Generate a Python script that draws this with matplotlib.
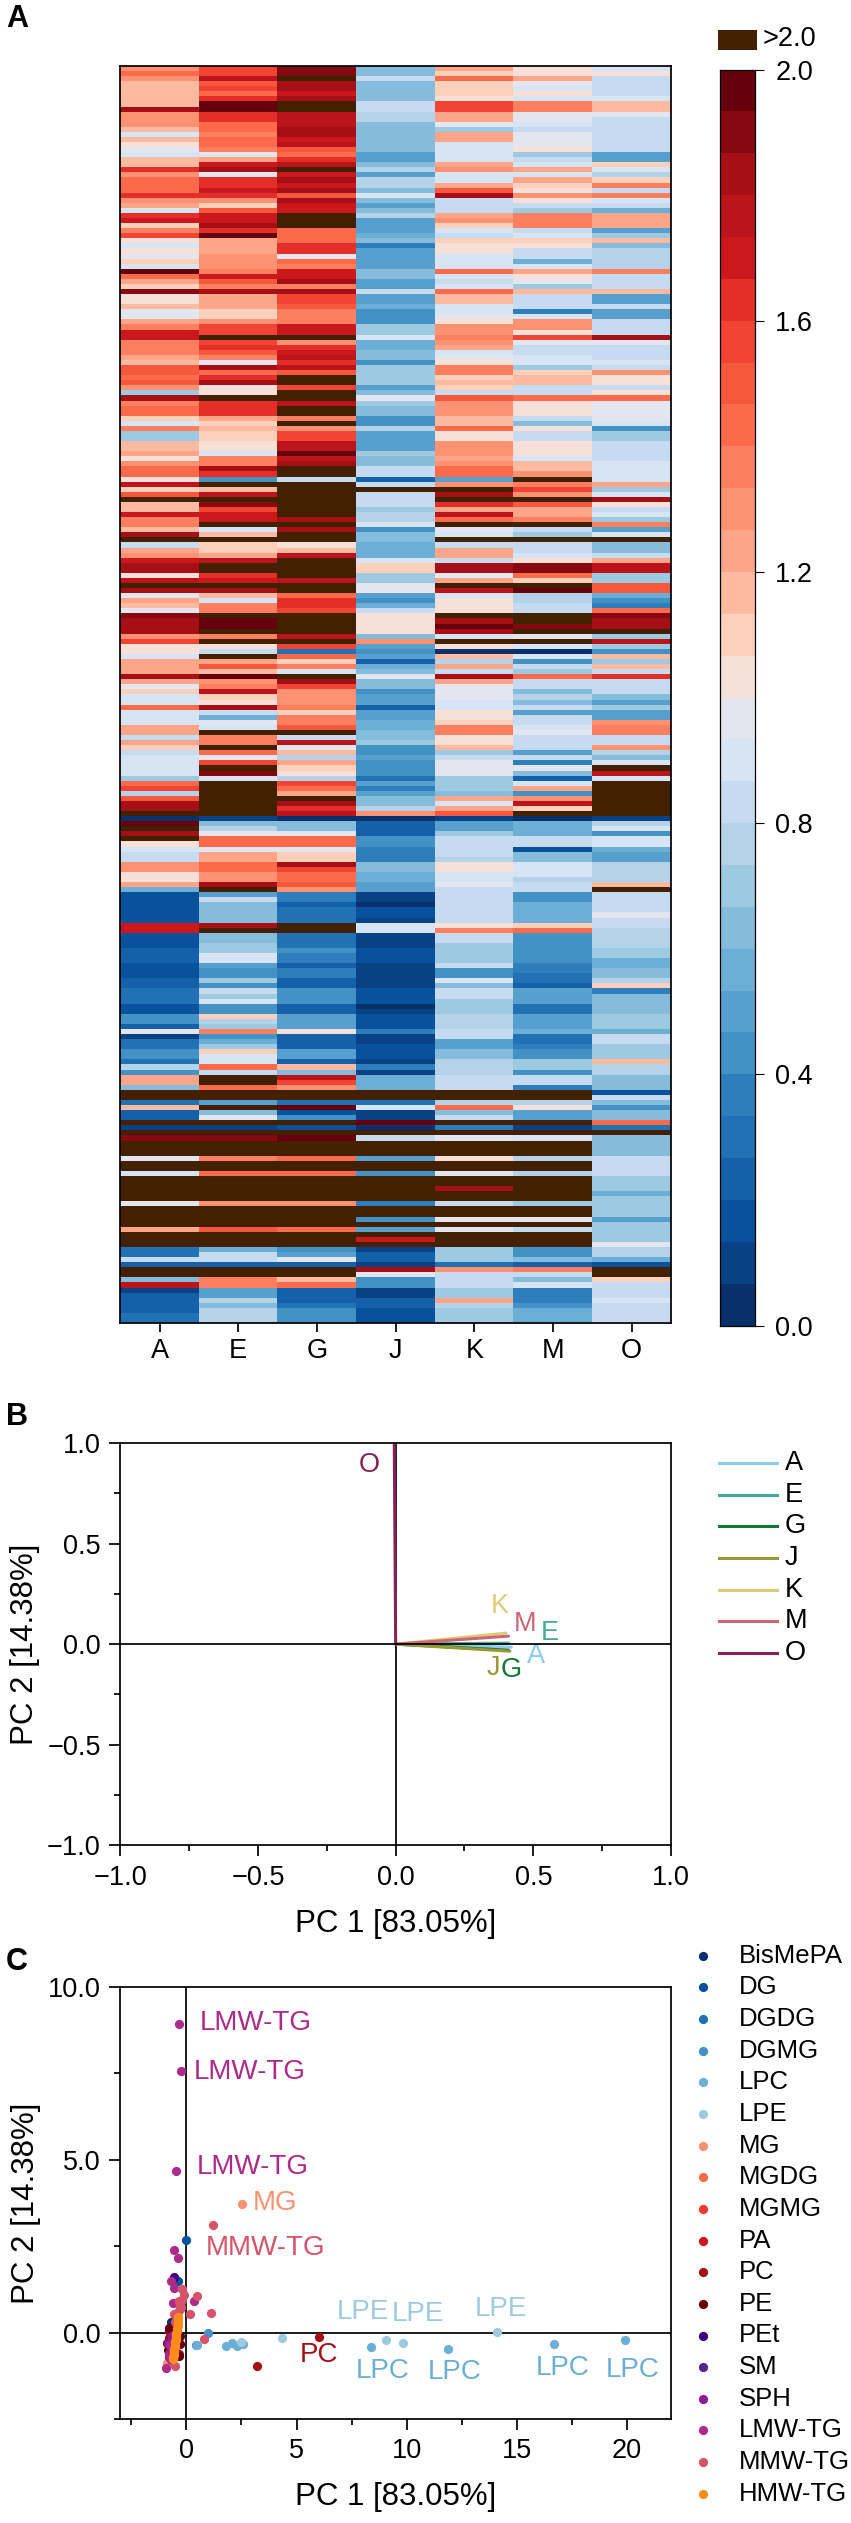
import numpy as np
import matplotlib
matplotlib.use("Agg")
import matplotlib.pyplot as plt
from matplotlib.colors import ListedColormap, BoundaryNorm
from matplotlib.ticker import MultipleLocator, FixedLocator

plt.rcParams['font.family'] = ['Liberation Sans', 'DejaVu Sans']

W, H = 851, 2523
X = 2.5  # value above the colour scale
N_ROWS = 248
samples = ['A', 'E', 'G', 'J', 'K', 'M', 'O']

# heatmap columns: (first row of a run, value)
col_A = [(0,1.3),(1,1.4),(2,1.3),(3,1.18),(8,1.83),(9,1.27),(12,1.15),(13,.87),(14,1.15),(15,1.03),(16,.95),(17,.92),(18,1.18),(20,1.6),(21,1.3),(22,1.4),(23,1.45),(25,1.6),(26,1.3),(27,1.25),(28,.92),(29,1.65),(30,1.7),(31,1.08),(32,1.35),(33,1.55),(34,1.05),(35,.88),(36,1.05),(37,.97),(38,1.1),(39,.93),(40,1.97),(41,1.45),(42,1.25),(43,1.08),(44,1.9),(45,1.03),(47,1.15),(48,.97),(50,1.2),(51,1.35),(52,1.68),(54,1.37),(57,1.25),(58,1.15),(59,1.5),(61,1.4),(62,1.5),(63,1.3),(64,.7),(65,1.83),(66,1.35),(67,1.4),(69,1.07),(70,.93),(71,1.37),
 (72,.7),(74,1.15),(76,1.2),(77,1.05),(78,1.3),(79,1.43),(81,1.05),(82,1.75),(83,1.1),(84,1.5),(85,X),(86,1.15),(88,1.7),(89,1.37),(91,1.15),(92,1.8),(93,X),(94,.8),(95,1.25),(96,1.3),(97,1.68),(98,1.83),(100,1.03),(101,1.75),(102,X),(103,1.8),(104,.95),(105,1.2),(106,1.15),(107,.95),(108,1.88),(109,1.83),(112,1.3),(113,1.55),(114,1.05),(116,.9),(117,1.2),(120,1.85),(121,1.25),(122,.95),(123,1.1),(124,.93),(125,.88),(126,1.4),(127,.88),(128,.92),(130,1.23),(132,.85),(133,1.25),(134,1.1),(135,.8),(136,.88),(140,.7),(141,1.4),(142,1.55),(143,.75),(144,1.5),(145,1.83),(147,X),(148,.05),(149,1.95),(150,X),(151,1.8),(152,X),(153,1.03),(154,.93),(155,.85),
 (157,1.3),(159,1.05),(161,1.2),(162,.55),(163,.15),(169,1.7),(171,.15),(174,.25),(177,.15),(180,.2),(182,.27),(185,.17),(187,.4),(189,.2),(190,.95),(191,.13),(192,.3),(194,.45),(196,.3),(197,.75),(198,.4),(199,1.25),(201,.6),(202,X),(204,.3),(205,1.15),(206,.2),(208,X),(209,.1),(210,X),(211,1.9),(212,X),(215,.97),(216,X),(218,.93),(219,X),(224,.97),(225,X),(229,1.2),(230,X),(233,.3),(235,.85),(236,.25),(237,X),(239,.6),(240,1.75),(241,.1),(242,.2),(245,.25),(246,.3)]

col_E = [(0,1.55),(2,1.75),(3,1.5),(4,1.55),(5,1.43),(6,1.6),(7,1.95),(9,1.6),(11,1.43),(13,1.35),(14,1.45),(16,1.35),(17,.95),(18,1.25),(19,1.7),(20,1.85),(21,.95),(22,1.6),(24,1.7),(25,1.6),(26,1.3),(27,1.1),(28,1.5),(29,1.68),(31,1.8),(32,1.6),(33,1.97),(34,1.25),(37,1.3),(40,1.35),(41,1.7),(42,1.5),(43,1.35),(44,1.85),(45,1.2),(48,1.08),(50,1.3),(51,1.55),(53,X),(54,1.55),(55,1.6),(56,1.5),(57,1.35),(58,.97),(59,1.8),(60,1.45),(61,1.6),(62,1.8),(63,1.05),(65,X),(66,1.6),(67,1.65),(69,1.2),(70,1.1),(71,1.17),
 (72,1.1),(74,1.03),(76,.88),(77,1.35),(79,1.83),(80,1.6),(81,.4),(82,X),(83,1.15),(84,1.75),(85,X),(86,1.9),(87,1.55),(88,1.7),(90,X),(91,.9),(92,1.15),(93,X),(94,1.1),(96,1.25),(97,1.75),(98,X),(100,1.6),(101,1.7),(102,X),(103,1.8),(104,1.15),(105,.93),(106,1.35),(108,X),(109,1.97),(111,X),(112,1.37),(113,X),(114,1.05),(115,.85),(116,X),(117,1.25),(118,1.5),(119,1.17),(120,1.97),(121,1.3),(122,1.37),(123,1.75),(124,1.08),(125,1.05),(126,1.8),(127,.85),(128,.55),(129,.95),(130,.93),(131,X),(132,1.37),(134,X),(135,1.4),(136,.95),(137,1.55),(138,X),(139,1.9),(140,.93),(141,X),(148,.1),(149,.65),(150,.75),(151,.95),(152,1.4),(154,.97),(155,1.25),
 (157,1.4),(159,1.27),(161,1.85),(162,X),(163,.5),(164,.85),(165,.65),(169,1.8),(170,X),(171,.6),(173,.72),(175,.9),(177,.5),(178,.45),(180,.7),(181,.45),(182,.8),(183,.7),(184,.93),(185,.45),(187,1.13),(188,.78),(189,.7),(190,1.37),(191,.45),(192,.55),(193,.7),(194,1.13),(195,.88),(197,1.4),(198,.85),(199,X),(201,1.4),(202,X),(204,.5),(205,X),(206,.6),(207,.97),(208,X),(209,.1),(210,X),(211,1.9),(212,X),(215,1.35),(216,X),(218,1.4),(219,X),(224,1.33),(225,X),(229,1.48),(230,X),(233,.55),(234,.85),(236,.25),(237,X),(239,1.37),(241,.5),(243,.75),(244,.65),(245,.75)]

col_G = [(0,1.9),(2,X),(3,1.83),(5,1.7),(6,1.83),(7,X),(9,1.77),(12,1.83),(14,1.7),(15,1.77),(16,1.5),(17,1.45),(18,1.65),(19,1.75),(20,X),(21,1.7),(22,1.83),(23,1.7),(24,1.83),(25,1.5),(26,1.8),(27,1.68),(29,X),(32,1.45),(35,1.6),(37,.97),(38,1.45),(39,1.35),(40,1.72),(42,1.83),(43,1.37),(44,1.83),(45,1.57),(47,1.5),(48,1.37),(51,1.72),(53,X),(54,1.3),(55,1.6),(56,1.72),(57,1.77),(58,1.6),(59,1.75),(60,1.5),(61,X),(63,1.55),(64,X),(66,1.75),(67,X),(69,1.37),(70,X),(71,1.3),
 (72,1.55),(74,1.75),(76,1.97),(77,1.75),(78,1.8),(79,X),(81,.8),(82,X),(89,1.83),(90,X),(91,1.85),(92,X),(94,1.05),(95,1.15),(96,1.75),(97,X),(101,1.75),(102,X),(104,1.4),(105,1.6),(106,1.65),(107,1.55),(108,X),(112,1.75),(113,X),(114,1.55),(115,.3),(116,1.4),(117,1.1),(118,1.35),(119,.9),(120,X),(121,1.8),(122,1.55),(123,1.3),(126,1.37),(127,1.07),(128,1.37),(130,1.5),(131,X),(132,.85),(133,1.75),(134,.95),(135,1.15),(136,.75),(137,1.25),(138,1.1),(139,1.03),(140,.75),(141,1.55),(142,1.45),(143,1.2),(144,X),(145,1.8),(146,1.65),(147,1.75),(148,.03),(149,.6),(151,.95),(152,1.4),(154,.97),(155,1.1),
 (157,1.83),(158,1.55),(159,1.42),(161,1.5),(162,1.28),(163,.37),(165,.25),(166,.33),(169,X),(171,.33),(174,.45),(175,.38),(177,.2),(178,.35),(180,.25),(181,.2),(182,.45),(185,.2),(187,.47),(190,1.05),(191,.2),(194,.5),(196,.25),(197,1.17),(198,.6),(199,1.75),(200,1.57),(201,1.27),(202,X),(204,.3),(205,1.97),(206,.17),(207,.45),(208,X),(209,.17),(210,X),(211,1.97),(212,X),(215,1.4),(216,X),(218,1.45),(219,X),(224,1.27),(225,X),(229,1.45),(230,X),(233,.4),(234,.5),(235,.95),(236,.25),(237,X),(239,1.15),(240,1.4),(241,.25),(244,.3),(245,.4)]

col_J = [(0,.65),(2,.85),(3,.65),(7,.85),(8,.8),(9,.77),(11,.65),(17,.47),(19,.65),(20,.75),(21,.5),(22,.77),(24,.65),(25,.93),(26,.65),(27,.53),(28,.6),(29,.75),(30,.5),(32,.47),(33,.55),(34,.65),(35,.37),(36,.5),(37,.47),(39,.5),(40,.6),(42,.5),(44,.85),(45,.5),(47,.57),(48,.4),(51,.7),(53,.9),(54,.55),(56,.6),(58,.4),(59,.68),(61,.7),(63,.5),(64,.65),(65,.97),(66,.7),(67,.63),(69,.42),(71,.77),
 (72,.5),(76,.72),(77,.65),(79,.85),(81,.2),(82,.85),(83,X),(84,.85),(87,.7),(88,.75),(90,.93),(91,.45),(92,.65),(94,.55),(97,.9),(98,1.13),(100,.7),(102,.97),(104,.5),(105,.45),(106,.55),(107,.8),(108,1.05),(112,.6),(113,1.27),(114,.5),(115,.43),(116,.5),(117,.2),(118,.55),(119,.6),(120,.95),(121,.6),(123,.43),(124,.5),(126,.2),(127,.5),(129,.55),(131,.65),(133,.7),(134,.43),(136,.5),(137,.4),(138,.43),(140,.3),(141,.5),(142,.37),(143,.5),(144,.65),(146,.75),(147,1.3),(148,.05),(149,.2),(152,.42),(154,.37),
 (157,.6),(159,.55),(161,.5),(163,.12),(165,.05),(166,.18),(168,.08),(169,.87),(171,.1),(174,.17),(177,.08),(180,.12),(182,.15),(185,.03),(186,.08),(187,.18),(189,.15),(190,.35),(191,.1),(193,.15),(196,.07),(197,.35),(198,.12),(199,.55),(202,X),(204,.3),(205,.88),(206,.1),(208,1.97),(209,.05),(210,X),(211,.8),(212,X),(215,.5),(216,X),(218,.43),(219,X),(224,.35),(225,X),(227,.45),(228,X),(229,.5),(230,X),(231,1.72),(232,X),(233,.1),(234,.25),(236,.1),(237,1.85),(238,.97),(239,.4),(241,.1),(243,.2),(245,.17)]

col_K = [(0,1.25),(1,1.1),(2,1.45),(3,1.13),(6,1.05),(7,1.57),(9,1.25),(11,.97),(12,.7),(13,1.23),(15,.9),(17,.88),(19,1.2),(20,1.3),(21,.9),(23,1.25),(24,1.5),(25,1.83),(26,.85),(27,.8),(29,1.2),(30,1.3),(31,1.1),(32,.92),(33,.85),(34,1.1),(35,1.03),(37,.93),(40,1.43),(41,.93),(42,.85),(43,.93),(44,1.45),(45,1.17),(47,.88),(49,.95),(50,1.03),(51,1.3),(53,1.37),(54,1.3),(55,1.25),(56,.93),(57,.97),(58,1.05),(59,1.37),(61,1.1),(62,1.15),(63,1.1),(64,.8),(65,1.5),(66,1.27),(69,1.15),(70,1.17),(71,1.4),
 (72,1.05),(74,1.27),(77,1.25),(78,1.3),(79,1.45),(81,.5),(82,1.3),(83,X),(84,1.8),(85,X),(86,1.6),(87,1.25),(88,1.75),(89,1.45),(90,X),(91,.95),(92,.9),(93,X),(94,.8),(95,1.2),(97,.85),(98,1.8),(100,.97),(101,1.2),(102,X),(103,1.75),(104,.88),(105,1.03),(108,X),(109,1.83),(110,1.97),(111,1.83),(112,.93),(113,X),(114,1.05),(115,.03),(116,1.15),(117,.75),(118,1.2),(119,.8),(120,1.8),(121,1.2),(122,.97),(124,.95),(125,.88),(127,1.03),(129,1.1),(130,1.35),(132,1.05),(134,1.17),(135,.72),(136,.85),(137,.95),(140,.68),(143,.62),(144,1.2),(145,.9),(146,1.25),(147,1.5),(148,.1),(149,.5),(151,.7),(152,.85),(156,.75),
 (157,1.05),(159,.88),(161,.97),(162,.85),(163,.82),(169,1.05),(170,1.37),(171,.8),(173,.7),(175,.72),(177,.8),(178,.45),(180,.9),(181,.6),(182,.83),(184,.7),(187,.75),(190,.8),(192,.5),(194,.65),(196,.75),(199,.85),(202,X),(204,.78),(205,1.4),(206,.6),(207,.85),(208,X),(209,.35),(210,X),(211,.97),(212,X),(215,1.05),(216,X),(218,.97),(219,X),(221,1.83),(222,X),(224,.85),(225,X),(227,.95),(228,X),(229,.97),(230,X),(233,.7),(236,.3),(237,1.27),(238,.85),(241,.72),(243,1.2),(244,.75),(245,.72)]

col_M = [(0,1.05),(2,1.25),(3,.95),(4,.9),(5,1.0),(6,.92),(7,1.35),(9,.95),(11,.93),(12,.8),(13,.95),(16,1.05),(17,.7),(18,.85),(19,.87),(20,1.2),(21,.9),(22,1.2),(23,1.08),(24,1.05),(25,1.27),(26,1.05),(27,.85),(28,.72),(29,1.35),(32,.85),(33,.9),(34,1.13),(35,1.05),(36,.85),(37,.8),(38,.55),(39,.9),(40,1.2),(41,1.03),(42,.95),(43,.7),(44,1.15),(45,.85),(47,.83),(48,.35),(49,.9),(50,1.3),(52,1.05),(53,1.55),(54,.95),(55,.85),(56,.8),(57,.9),(59,.7),(60,1.1),(61,1.15),(63,.83),(65,1.45),(66,1.05),(69,.8),(70,.65),(71,1.05),
 (72,.8),(74,1.03),(77,.9),(78,1.17),(80,1.3),(81,X),(82,1.37),(83,1.57),(84,1.27),(85,X),(86,1.5),(87,1.2),(89,1.35),(90,X),(91,.85),(92,.72),(93,X),(94,.8),(96,.88),(97,1.05),(98,1.9),(100,1.4),(101,1.1),(102,X),(103,1.95),(104,.78),(106,.82),(108,X),(110,1.9),(111,X),(112,.95),(113,X),(114,.88),(115,.03),(116,.9),(117,.45),(118,.85),(119,.72),(120,1.43),(121,.8),(123,.65),(124,.75),(125,.65),(126,.85),(127,.5),(128,.85),(130,.88),(131,.97),(132,.85),(134,.8),(135,.5),(136,.8),(137,.35),(138,.95),(139,.6),(140,.2),(141,.93),(142,1.2),(143,.45),(144,1.3),(145,1.75),(146,1.08),(147,X),(148,.03),(149,.55),(152,.85),(154,.17),(155,.65),
 (157,.9),(160,.75),(161,.8),(163,.45),(165,.55),(169,1.1),(170,1.4),(171,.43),(177,.35),(179,.3),(181,.2),(182,.5),(185,.3),(187,.5),(190,.55),(191,.3),(193,.35),(194,.43),(196,.7),(198,.43),(199,.85),(201,.35),(202,X),(204,.75),(205,1.05),(206,.5),(208,X),(209,.1),(210,X),(211,.93),(212,X),(215,.75),(216,X),(218,.75),(219,X),(224,.7),(225,X),(227,.97),(228,X),(229,.85),(230,X),(233,.45),(235,.6),(236,.2),(237,1.37),(238,.85),(239,.65),(240,.9),(241,.37),(244,.45),(245,.55)]

col_O = [(0,.88),(1,1.05),(2,.83),(6,.88),(7,1.17),(9,.95),(10,.85),(12,.8),(17,.5),(19,1.1),(20,.9),(21,.78),(22,1.08),(23,1.35),(24,.85),(25,1.35),(26,.9),(27,.85),(28,.55),(29,1.25),(32,.5),(33,.7),(34,1.15),(35,.6),(36,.78),(39,.75),(40,1.37),(41,.8),(44,1.17),(45,.53),(47,.85),(48,.5),(50,.85),(51,.8),(53,1.8),(54,.95),(55,.85),(58,.88),(59,.85),(60,1.33),(61,1.03),(63,.8),(64,1.05),(65,1.45),(66,.97),(70,.93),(71,.4),
 (72,.7),(74,.83),(78,.88),(79,.9),(82,1.2),(83,.72),(84,.93),(85,1.8),(86,1.05),(87,.8),(88,.9),(89,.7),(90,1.35),(91,.5),(92,.9),(93,X),(94,.65),(96,.8),(97,1.2),(98,1.75),(100,.7),(102,1.5),(104,.55),(105,.45),(106,.37),(107,1.45),(108,1.9),(109,1.83),(111,X),(112,.72),(113,1.75),(114,.7),(115,.45),(116,1.15),(117,.7),(118,1.15),(119,.8),(120,1.65),(121,.8),(124,.65),(125,.5),(126,.7),(127,.5),(129,1.3),(130,1.37),(132,.8),(134,1.3),(135,.75),(136,.65),(137,.88),(138,X),(139,1.75),(140,.9),(141,X),(148,.07),(149,.75),(150,.9),(151,.4),(152,.9),(154,.55),(155,.5),
 (157,.75),(161,1.17),(162,X),(163,.8),(167,.95),(168,.8),(170,.78),(174,.7),(176,.55),(178,.6),(180,.75),(181,1.1),(182,.37),(183,.65),(185,.6),(187,.72),(190,.55),(191,.8),(193,.68),(196,1.15),(197,.75),(199,.65),(202,.15),(203,.8),(204,.6),(205,.45),(206,.65),(208,1.4),(209,.3),(210,X),(211,.62),(215,.85),(217,.83),(219,.7),(222,.55),(223,.7),(227,.5),(228,.7),(229,.72),(231,.7),(232,.95),(233,.75),(235,.55),(236,.17),(237,X),(239,1.13),(240,.85),(243,.93),(244,.8)]

# panel B loadings
load_names = ['A', 'E', 'G', 'J', 'K', 'M', 'O']
load_pc1 = [0.42, 0.41, 0.41, 0.415, 0.40, 0.41, -0.005]
load_pc2 = [-0.015, 0.005, -0.03, -0.035, 0.055, 0.04, 1.0]
load_colors = ['#88ccee', '#44aa99', '#117733', '#999933', '#ddcc77', '#cc6677', '#882255']
load_label_x = [0.51, 0.56, 0.42, 0.355, 0.38, 0.47, -0.095]
load_label_y = [-0.06, 0.055, -0.13, -0.12, 0.19, 0.10, 0.89]

# panel C scores
classes = ['BisMePA','DG','DGDG','DGMG','LPC','LPE','MG','MGDG','MGMG','PA','PC','PE','PEt','SM','SPH','LMW-TG','MMW-TG','HMW-TG']
class_colors = ['#08306b','#08519c','#2171b5','#4292c6','#6baed6','#9ecae1','#fc9272','#fb6a4a','#ef3b2c','#cb181d','#a50f15','#67000d','#3f007d','#54278f','#8e1b9e','#ae2a8a','#d6546a','#ff8c1a']
score_pc1 = {
 'BisMePA':[-0.7],'DG':[-0.02,-0.37],'DGDG':[-0.5],'DGMG':[0.97,0.42],
 'LPC':[8.36,11.89,16.7,19.93,2.55,0.5,1.8,2.08,2.28],'LPE':[4.32,9.08,9.83,14.1,2.5],
 'MG':[2.53,-0.88,-0.75],'MGDG':[-0.6,-0.45],'MGMG':[-0.55],'PA':[-0.7,-0.4],
 'PC':[6.0,3.2,-0.8,-0.75,-0.32,-0.55,-0.78,-0.33],'PE':[-0.8,-0.88,-0.27,-0.35,-0.82,-0.72,-0.3],
 'PEt':[-0.55],'SM':[-0.72,-0.6],'SPH':[-0.8,-0.7,-0.65,-0.82],
 'LMW-TG':[-0.32,-0.25,-0.47,-0.58,-0.39,-0.7,-0.55,-0.62,0.33,-0.93,-0.8,-0.72,-0.75,-0.65],
 'MMW-TG':[1.2,0.48,1.12,0.18,-0.2,-0.12,-0.35,-0.2,-0.27,-0.55,0.79,-0.53,-0.3,-0.42,-0.5,-0.25,-0.38],
 'HMW-TG':[-0.38,-0.38,-0.4,-0.4,-0.42,-0.42,-0.45,-0.45,-0.47,-0.47,-0.5,-0.5,-0.52,-0.52,-0.55,-0.55,-0.58,-0.58,-0.6,-0.6],
}
score_pc2 = {
 'BisMePA':[0.3],'DG':[2.67,1.49],'DGDG':[-0.5],'DGMG':[-0.01,-0.36],
 'LPC':[-0.43,-0.48,-0.32,-0.22,-0.32,-0.35,-0.4,-0.31,-0.39],'LPE':[-0.16,-0.22,-0.3,0.02,-0.26],
 'MG':[3.73,-0.87,-0.7],'MGDG':[-0.35,-0.6],'MGMG':[-0.1],'PA':[-0.55,-0.2],
 'PC':[-0.13,-0.96,0.05,-0.45,-0.62,0.2,-0.15,-0.3],'PE':[0.14,-0.29,-0.34,-0.67,-0.5,-0.75,-0.1],
 'PEt':[1.6],'SM':[-0.6,-0.2],'SPH':[-0.7,-0.45,-0.1,-0.3],
 'LMW-TG':[8.92,7.56,4.69,2.38,2.16,1.49,1.28,0.87,0.91,-1.02,-0.62,-0.8,-0.35,-0.55],
 'MMW-TG':[3.12,1.06,0.58,0.53,1.25,1.1,0.91,0.95,0.67,0.55,-0.19,-0.97,0.8,0.45,0.3,0.75,0.6],
 'HMW-TG':[0.45,0.35,0.3,0.2,0.12,0.05,0.0,-0.08,-0.12,-0.2,-0.25,-0.3,-0.38,-0.43,-0.48,-0.55,-0.6,-0.65,-0.7,-0.75],
}
ann_text = ['LMW-TG','LMW-TG','LMW-TG','MG','MMW-TG','PC','LPE','LPE','LPE','LPC','LPC','LPC','LPC']
ann_x = [3.15,2.88,3.0,4.04,3.6,6.0,8.0,10.5,14.27,8.93,12.16,17.07,20.25]
ann_y = [8.95,7.53,4.8,3.75,2.46,-0.66,0.6,0.54,0.69,-1.12,-1.15,-1.03,-1.08]

# colour scale: 30 steps between 0 and 2
scale_colors = ['#08306b','#084184','#08519c','#1561a9','#2171b5','#2f7ebc','#4292c6','#57a0ce','#6baed6','#85bcdc','#9ecae1','#b4d3e9','#c6dbef','#d6e4f3','#e4e6ef',
                '#f6e0d8','#fdd0bc','#fcbba1','#fca588','#fc9272','#fc7f5f','#fb6a4a','#f6583e','#f14432','#e32f27','#cb181d','#bb141a','#a50f15','#860811','#67000d']
over_color = '#432000'
scale_ticks = [0.0, 0.4, 0.8, 1.2, 1.6, 2.0]


def expand(runs):
    out = np.zeros(N_ROWS)
    for i, (start, val) in enumerate(runs):
        end = runs[i + 1][0] if i + 1 < len(runs) else N_ROWS
        out[start:end] = val
    return out


def px_axes(l, t, r, b):
    return fig.add_axes([l / W, 1 - b / H, (r - l) / W, (b - t) / H])


TICK = 19.5
LABEL = 22.5
LW = 1.25
MS = 44
fig = plt.figure(figsize=(W / 100, H / 100), dpi=100)
overlay = fig.add_axes([0, 0, 1, 1], zorder=10)
overlay.set_xlim(0, W)
overlay.set_ylim(H, 0)
overlay.axis('off')
overlay.patch.set_alpha(0)

for letter, y in zip('ABC', (19, 1417, 1962)):
    overlay.text(6, y, letter, fontsize=22, fontweight='bold', va='center', ha='left')

# --- A: heatmap
data = np.column_stack([expand(c) for c in (col_A, col_E, col_G, col_J, col_K, col_M, col_O)])
cmap = ListedColormap(scale_colors)
cmap.set_over(over_color)
norm = BoundaryNorm(np.linspace(0, 2, 31), 30)
ax = px_axes(120.3, 66, 671, 1323)
ax.imshow(data, cmap=cmap, norm=norm, aspect='auto', interpolation='nearest')
ax.set_xticks(range(len(samples)), samples, fontsize=TICK)
ax.set_yticks([])
ax.tick_params(axis='x', length=6.5, width=LW, pad=4)
for s in ax.spines.values():
    s.set_linewidth(LW)

# colour bar
cax = px_axes(720, 69.5, 755, 1325.5)
levels = np.linspace(0, 2, 31)
cax.pcolormesh([0, 1], levels, ((levels[:-1] + levels[1:]) / 2)[:, None], cmap=cmap, norm=norm)
cax.set_xticks([])
cax.yaxis.tick_right()
cax.set_yticks(scale_ticks, [f'{t:.1f}' for t in scale_ticks], fontsize=TICK)
cax.tick_params(axis='y', length=6.5, width=0.8, pad=8)
for s in cax.spines.values():
    s.set_linewidth(0.9)
sw = px_axes(718, 30, 757, 50)
sw.set_facecolor(over_color)
sw.set_xticks([])
sw.set_yticks([])
for s in sw.spines.values():
    s.set_visible(False)
overlay.text(763, 39.5, '>2.0', fontsize=TICK, va='center', ha='left')

# --- B: loadings
ax = px_axes(120.3, 1443, 671, 1845.3)
for n, px, py, c, lx, ly in zip(load_names, load_pc1, load_pc2, load_colors, load_label_x, load_label_y):
    ax.plot([0, px], [0, py], color=c, lw=2.2, solid_capstyle='round', zorder=2)
    ax.text(lx, ly, n, color=c, fontsize=TICK, ha='center', va='center')
ax.axhline(0, color='k', lw=LW, zorder=3)
ax.axvline(0, color='k', lw=LW, zorder=1.5)
ax.set_xlim(-1, 1)
ax.set_ylim(-1, 1)
ax.set_xticks([-1, -0.5, 0, 0.5, 1], ['\u22121.0', '\u22120.5', '0.0', '0.5', '1.0'], fontsize=TICK)
ax.set_yticks([-1, -0.5, 0, 0.5, 1], ['\u22121.0', '\u22120.5', '0.0', '0.5', '1.0'], fontsize=TICK)
ax.xaxis.set_minor_locator(MultipleLocator(0.25))
ax.yaxis.set_minor_locator(MultipleLocator(0.25))
ax.tick_params(which='major', length=8, width=LW, pad=6)
ax.tick_params(which='minor', length=4, width=LW)
ax.set_xlabel('PC 1 [83.05%]', fontsize=LABEL, labelpad=13)
ax.set_ylabel('PC 2 [14.38%]', fontsize=LABEL, labelpad=5)
for s in ax.spines.values():
    s.set_linewidth(LW)
for i, (n, c) in enumerate(zip(load_names, load_colors)):
    y = 1463 + i * 31.66
    overlay.plot([719, 777], [y, y], color=c, lw=2.2)
    overlay.text(785, y, n, fontsize=TICK, va='center', ha='left')

# --- C: scores
ax = px_axes(120.3, 1987, 671, 2419)
for cl, c in zip(classes, class_colors):
    ax.scatter(score_pc1[cl], score_pc2[cl], s=MS, color=c, linewidths=0, zorder=3)
class_col = dict(zip(classes, class_colors))
for t, x, y in zip(ann_text, ann_x, ann_y):
    ax.text(x, y, t, color=class_col[t], fontsize=20, ha='center', va='center', zorder=4)
ax.axhline(0, color='k', lw=LW, zorder=1)
ax.axvline(0, color='k', lw=LW, zorder=1)
ax.set_xlim(-3, 22)
ax.set_ylim(-2.5, 10)
ax.set_xticks([0, 5, 10, 15, 20], ['0', '5', '10', '15', '20'], fontsize=TICK)
ax.set_yticks([0, 5, 10], ['0.0', '5.0', '10.0'], fontsize=TICK)
ax.xaxis.set_minor_locator(FixedLocator([-2.5, 2.5, 7.5, 12.5, 17.5]))
ax.yaxis.set_minor_locator(FixedLocator([-2.5, 2.5, 7.5]))
ax.tick_params(which='major', length=8, width=LW, pad=6)
ax.tick_params(which='minor', length=4, width=LW)
ax.set_xlabel('PC 1 [83.05%]', fontsize=LABEL, labelpad=13)
ax.set_ylabel('PC 2 [14.38%]', fontsize=LABEL, labelpad=5)
for s in ax.spines.values():
    s.set_linewidth(LW)
for i, (cl, c) in enumerate(zip(classes, class_colors)):
    y = 1955.7 + i * 31.65
    overlay.scatter([703], [y], s=MS, color=c, linewidths=0)
    overlay.text(739, y, cl, fontsize=18.5, va='center', ha='left')

fig.savefig('out.png', dpi=100)
